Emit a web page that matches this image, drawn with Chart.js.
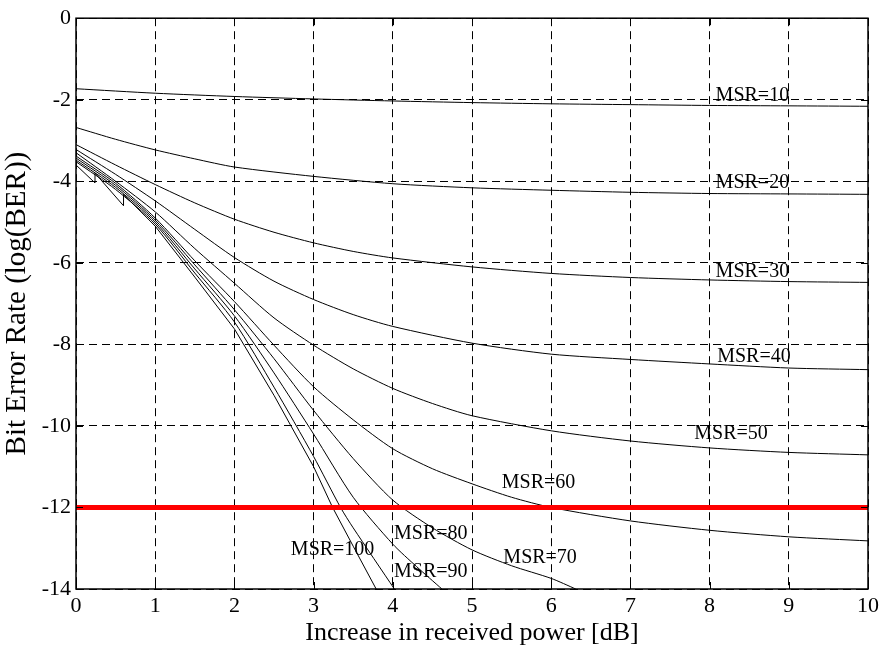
<!DOCTYPE html>
<html>
<head>
<meta charset="utf-8">
<script src="https://cdn.jsdelivr.net/npm/chart.js@4/dist/chart.umd.min.js"></script>
<style>
  html, body { margin: 0; padding: 0; background: #fff; }
  #wrap { width: 883px; height: 649px; }
</style>
</head>
<body>
<div id="wrap"><canvas id="ber"></canvas></div>
<script>
// curves: [increase in received power (dB), log10(BER)]
const msr10 = [[0,-1.73],[1,-1.84],[2,-1.92],[3,-1.98],[4,-2.03],[5,-2.07],[6,-2.10],[7,-2.12],[8,-2.14],[9,-2.15],[10,-2.16]];
const msr20 = [[0,-2.68],[0.5,-2.97],[1,-3.23],[1.5,-3.45],[2,-3.65],[3,-3.88],[4,-4.06],[5,-4.16],[6,-4.22],[7,-4.27],[8,-4.30],[9,-4.31],[10,-4.32]];
const msr30 = [[0,-3.10],[0.5,-3.60],[1,-4.08],[1.5,-4.53],[2,-4.93],[2.5,-5.25],[3,-5.51],[3.5,-5.72],[4,-5.88],[5,-6.10],[6,-6.26],[7,-6.36],[8,-6.42],[9,-6.46],[10,-6.48]];
const msr40 = [[0,-3.22],[0.5,-3.83],[1,-4.48],[1.5,-5.18],[2,-5.87],[2.5,-6.45],[3,-6.90],[3.5,-7.27],[4,-7.56],[5,-7.97],[6,-8.24],[7,-8.37],[8,-8.48],[9,-8.58],[10,-8.62]];
const msr50 = [[0,-3.30],[0.5,-4.00],[1,-4.75],[1.5,-5.65],[2,-6.50],[2.5,-7.35],[3,-8.02],[3.5,-8.60],[4,-9.08],[4.5,-9.45],[5,-9.75],[6,-10.12],[7,-10.37],[8,-10.54],[9,-10.65],[10,-10.71]];
const msr60 = [[0,-3.38],[0.5,-4.05],[1,-4.90],[1.5,-5.95],[2,-6.95],[2.5,-8.02],[3,-9.04],[3.5,-9.85],[4,-10.56],[4.5,-11.05],[5,-11.42],[5.5,-11.75],[6,-12.00],[7,-12.33],[8,-12.56],[9,-12.72],[10,-12.82]];
const msr70 = [[0,-3.43],[0.5,-4.10],[1,-4.95],[1.5,-6.05],[2,-7.15],[2.5,-8.35],[3,-9.62],[3.5,-10.80],[4,-11.82],[4.5,-12.50],[5,-13.04],[5.5,-13.43],[6,-13.74],[6.31,-14]];
const msr80 = [[0,-3.48],[0.5,-4.15],[1,-5.00],[1.5,-6.15],[2,-7.30],[2.5,-8.70],[3,-10.20],[3.5,-11.75],[4,-12.90],[4.3,-13.45],[4.62,-14]];
const msr90 = [[0,-3.52],[0.5,-4.20],[1,-5.05],[1.5,-6.25],[2,-7.45],[2.5,-9.05],[3,-10.75],[3.34,-12],[3.5,-12.50],[4.02,-14]];
const msr100 = [[0,-3.60],[0.24,-4.04],[0.24,-3.80],[0.6,-4.60],[0.6,-4.32],[1,-5.10],[1.5,-6.35],[2,-7.62],[2.5,-9.25],[3,-11.00],[3.24,-12],[3.5,-12.95],[3.79,-14]];

const curves = [msr10, msr20, msr30, msr40, msr50, msr60, msr70, msr80, msr90, msr100];
const curveNames = ['MSR=10','MSR=20','MSR=30','MSR=40','MSR=50','MSR=60','MSR=70','MSR=80','MSR=90','MSR=100'];

// where each MSR label sits (data units, text centre)
const labelX = [8.54, 8.54, 8.54, 8.56, 8.27, 5.84, 5.86, 4.48, 4.48, 3.24];
const labelY = [-1.85, -4.0, -6.17, -8.27, -10.16, -11.34, -13.19, -12.6, -13.53, -13.0];

// target BER threshold, drawn in red
const berLimit = -12;
const xRange = [0, 10];
const yRange = [-14, 0];

const serif = '"Liberation Serif", "Times New Roman", serif';

const toPts = arr => arr.map(p => ({x: p[0], y: p[1]}));

const datasets = [{
  label: 'limit',
  data: [{x: xRange[0], y: berLimit}, {x: xRange[1], y: berLimit}],
  borderColor: '#ff0000',
  borderWidth: 5,
  pointRadius: 0,
}];
curves.forEach((c, i) => {
  datasets.push({
    label: curveNames[i],
    data: toPts(c),
    borderColor: '#000',
    borderWidth: 1,
    pointRadius: 0,
    tension: i === 9 ? 0 : 0.25,
  });
});

// text labels next to the curves + the closed MATLAB-style box
const figureExtras = {
  id: 'figureExtras',
  afterDatasetsDraw(chart) {
    const {ctx, scales: {x, y}} = chart;
    ctx.save();
    ctx.fillStyle = '#000';
    ctx.font = '20px ' + serif;
    ctx.textAlign = 'center';
    ctx.textBaseline = 'alphabetic';
    curveNames.forEach((name, i) => {
      ctx.fillText(name, x.getPixelForValue(labelX[i]), y.getPixelForValue(labelY[i]) + 7);
    });
    ctx.restore();
  },
  afterDraw(chart) {
    const {ctx, chartArea: a, scales: {x, y}} = chart;
    ctx.save();
    ctx.strokeStyle = '#000';
    ctx.lineWidth = 1.5;
    ctx.strokeRect(a.left, a.top, a.right - a.left, a.bottom - a.top);
    ctx.lineWidth = 1;
    ctx.beginPath();
    x.ticks.forEach(t => {
      const px = Math.round(x.getPixelForValue(t.value)) + 0.5;
      ctx.moveTo(px, a.bottom); ctx.lineTo(px, a.bottom - 7);
      ctx.moveTo(px, a.top); ctx.lineTo(px, a.top + 7);
    });
    y.ticks.forEach(t => {
      const py = Math.round(y.getPixelForValue(t.value)) + 0.5;
      ctx.moveTo(a.left, py); ctx.lineTo(a.left + 7, py);
      ctx.moveTo(a.right, py); ctx.lineTo(a.right - 7, py);
    });
    ctx.stroke();
    ctx.restore();
  }
};

new Chart(document.getElementById('ber'), {
  type: 'line',
  data: {datasets},
  plugins: [figureExtras],
  options: {
    responsive: true,
    maintainAspectRatio: false,
    animation: false,
    devicePixelRatio: 1,
    layout: {padding: {top: 12, right: 15, left: 0, bottom: 0}},
    plugins: {
      legend: {display: false},
      tooltip: {enabled: false},
    },
    scales: {
      x: {
        type: 'linear',
        min: xRange[0],
        max: xRange[1],
        afterFit: s => { s.height = 60; },
        ticks: {stepSize: 1, color: '#000', padding: 4, font: {family: serif, size: 22}},
        grid: {color: '#000', lineWidth: 1, drawTicks: false},
        border: {display: false, dash: [8, 5]},
        title: {display: true, text: 'Increase in received power [dB]', color: '#000',
                font: {family: serif, size: 26}, padding: {top: 0, bottom: 0}},
      },
      y: {
        type: 'linear',
        min: yRange[0],
        max: yRange[1],
        afterFit: s => { s.width = 76; },
        ticks: {stepSize: 2, color: '#000', padding: 5, font: {family: serif, size: 22}},
        grid: {color: '#000', lineWidth: 1, drawTicks: false},
        border: {display: false, dash: [8, 5]},
        title: {display: true, text: 'Bit Error Rate (log(BER))', color: '#000',
                font: {family: serif, size: 29}, padding: {top: 0, bottom: 0}},
      },
    },
  },
});
</script>
</body>
</html>
